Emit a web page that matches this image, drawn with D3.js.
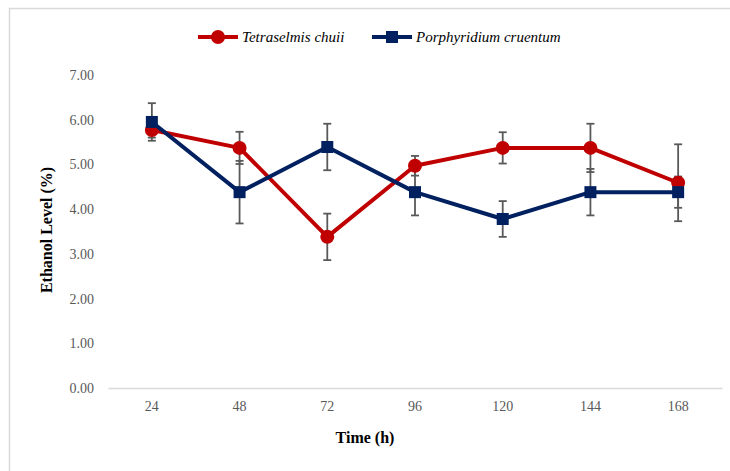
<!DOCTYPE html>
<html>
<head>
<meta charset="utf-8">
<script src="https://cdn.jsdelivr.net/npm/d3@7"></script>
<style>
  body { margin: 0; background: #fff; }
  svg { display: block; }
</style>
</head>
<body>
<svg id="chart" width="730" height="471"></svg>
<script>
// data
const hours = ["24", "48", "72", "96", "120", "144", "168"];
const chuii = [5.77, 5.37, 3.38, 4.97, 5.37, 5.37, 4.59];
const chuiiErr = [0.17, 0.36, 0.52, 0.22, 0.35, 0.54, 0.86];
const cruentum = [5.95, 4.38, 5.39, 4.38, 3.78, 4.38, 4.38];
const cruentumErr = [0.42, 0.70, 0.52, 0.52, 0.40, 0.52, 0.35];
const yTicks = [0, 1, 2, 3, 4, 5, 6, 7];

const series = [
    { name: "Tetraselmis chuii", values: chuii, err: chuiiErr, color: "#C00000", shape: "circle" },
    { name: "Porphyridium cruentum", values: cruentum, err: cruentumErr, color: "#002060", shape: "square" }
];

const font = "'Liberation Serif', 'DejaVu Serif', serif";
const plotLeft = 108, plotRight = 722, plotTop = 75, plotBottom = 388;

var svg = d3.select("#chart");

// outer chart border (runs off the right and bottom edges)
svg.append("rect")
    .attr("x", 9.5).attr("y", 8.5)
    .attr("width", 760).attr("height", 500)
    .attr("fill", "none")
    .attr("stroke", "#d9d9d9")
    .attr("stroke-width", 1.5);

var x = d3.scaleBand().domain(hours).range([plotLeft, plotRight]);
var y = d3.scaleLinear().domain([0, 7]).range([plotBottom, plotTop]);

function cx(d, i) { return x(hours[i]) + x.bandwidth() / 2; }

// y axis labels only, no line
var yAxis = svg.append("g")
    .attr("transform", "translate(" + plotLeft + ",0)")
    .call(d3.axisLeft(y).tickValues(yTicks).tickFormat(d3.format(".2f")).tickSize(0).tickPadding(14));
yAxis.select(".domain").remove();
yAxis.selectAll("text")
    .attr("font-family", font).attr("font-size", 14).attr("fill", "#595959");

// x axis
var xAxis = svg.append("g")
    .attr("transform", "translate(0," + plotBottom + ")")
    .call(d3.axisBottom(x).tickSize(0).tickPadding(13));
xAxis.select(".domain").attr("stroke", "#d9d9d9").attr("stroke-width", 1.5);
xAxis.selectAll("text")
    .attr("font-family", font).attr("font-size", 14).attr("fill", "#595959");

// error bars
series.forEach(function(s) {
    var g = svg.append("g").attr("stroke", "#595959").attr("stroke-width", 1.8);
    s.values.forEach(function(v, i) {
        var xc = cx(v, i);
        var y1 = y(v + s.err[i]), y2 = y(v - s.err[i]);
        g.append("line").attr("x1", xc).attr("x2", xc).attr("y1", y1).attr("y2", y2);
        g.append("line").attr("x1", xc - 4).attr("x2", xc + 4).attr("y1", y1).attr("y2", y1);
        g.append("line").attr("x1", xc - 4).attr("x2", xc + 4).attr("y1", y2).attr("y2", y2);
    });
});

// lines + markers
var line = d3.line().x(cx).y(function(d) { return y(d); });

function drawMarker(g, shape, color, px, py) {
    if (shape == "circle") {
        g.append("circle").attr("cx", px).attr("cy", py).attr("r", 7).attr("fill", color);
    } else {
        g.append("rect").attr("x", px - 6).attr("y", py - 6).attr("width", 12).attr("height", 12).attr("fill", color);
    }
}

series.forEach(function(s) {
    var g = svg.append("g");
    g.append("path")
        .datum(s.values)
        .attr("d", line)
        .attr("fill", "none")
        .attr("stroke", s.color)
        .attr("stroke-width", 4)
        .attr("stroke-linejoin", "round");
    s.values.forEach(function(v, i) {
        drawMarker(g, s.shape, s.color, cx(v, i), y(v));
    });
});

// legend
var legendX = [198, 372];
series.forEach(function(s, i) {
    var g = svg.append("g").attr("transform", "translate(" + legendX[i] + ",37)");
    g.append("line").attr("x1", 0).attr("x2", 40).attr("y1", 0).attr("y2", 0)
        .attr("stroke", s.color).attr("stroke-width", 4);
    drawMarker(g, s.shape, s.color, 20, 0);
    g.append("text")
        .attr("x", 44).attr("y", 5)
        .attr("font-family", font).attr("font-style", "italic").attr("font-size", 15)
        .attr("fill", "#000")
        .text(s.name);
});

// axis titles
svg.append("text")
    .attr("transform", "translate(52,230) rotate(-90)")
    .attr("text-anchor", "middle")
    .attr("font-family", font).attr("font-weight", "bold").attr("font-size", 16)
    .text("Ethanol Level (%)");

svg.append("text")
    .attr("x", 365).attr("y", 443)
    .attr("text-anchor", "middle")
    .attr("font-family", font).attr("font-weight", "bold").attr("font-size", 16)
    .text("Time (h)");
</script>
</body>
</html>
